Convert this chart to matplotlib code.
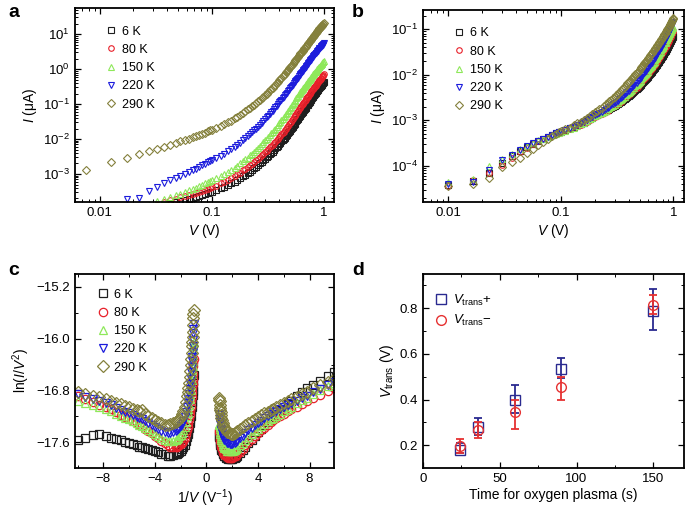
import matplotlib
matplotlib.use("Agg")
import matplotlib.pyplot as plt
import numpy as np

plt.rcParams['font.family'] = 'Liberation Sans'
plt.rcParams['mathtext.fontset'] = 'custom'
plt.rcParams['mathtext.rm'] = 'Liberation Sans'
plt.rcParams['mathtext.it'] = 'Liberation Sans:italic'

# ---- data ----
temps = ['6 K', '80 K', '150 K', '220 K', '290 K']
colors = ['#1e1e1e', '#e8202a', '#8ee85a', '#1c1cdc', '#84803c']
markers = ['s', 'o', '^', 'v', 'D']

# bias grid above 0.1 V (shared by panels a and b)
volts_high = [0.10, 0.11, 0.12, 0.13, 0.14, 0.15, 0.16, 0.17, 0.18, 0.19,
              0.20, 0.21, 0.22, 0.23, 0.24, 0.25, 0.26, 0.27, 0.28, 0.29,
              0.30, 0.31, 0.32, 0.33, 0.34, 0.35, 0.36, 0.37, 0.38, 0.39,
              0.40, 0.41, 0.42, 0.43, 0.44, 0.45, 0.46, 0.47, 0.48, 0.49,
              0.50, 0.51, 0.52, 0.53, 0.54, 0.55, 0.56, 0.57, 0.58, 0.59,
              0.60, 0.61, 0.62, 0.63, 0.64, 0.65, 0.66, 0.67, 0.68, 0.69,
              0.70, 0.71, 0.72, 0.73, 0.74, 0.75, 0.76, 0.77, 0.78, 0.79,
              0.80, 0.81, 0.82, 0.83, 0.84, 0.85, 0.86, 0.87, 0.88, 0.89,
              0.90, 0.91, 0.92, 0.93, 0.94, 0.95, 0.96, 0.97, 0.98, 0.99,
              1.00]

# panel a: log10 of current (uA)
volts_a_low = [0.0075, 0.0125, 0.0175, 0.0225, 0.0275, 0.0325, 0.0375, 0.0425, 0.0475, 0.0525,
               0.0575, 0.0625, 0.0675, 0.0725, 0.0775, 0.0825, 0.0875, 0.0925, 0.0975]
logi_a_6 = [-4.70, -4.50, -4.35, -4.20, -4.10, -4.00, -3.92, -3.86, -3.80, -3.77,
            -3.74, -3.72, -3.69, -3.67, -3.64, -3.61, -3.58, -3.55, -3.52,
            -3.51, -3.46, -3.41, -3.36, -3.31, -3.27, -3.22, -3.17, -3.12, -3.07,
            -3.02, -2.97, -2.93, -2.88, -2.84, -2.79, -2.74, -2.70, -2.65, -2.61,
            -2.56, -2.52, -2.48, -2.44, -2.40, -2.36, -2.31, -2.27, -2.23, -2.19,
            -2.15, -2.11, -2.07, -2.03, -1.99, -1.96, -1.92, -1.88, -1.84, -1.80,
            -1.76, -1.72, -1.68, -1.65, -1.61, -1.57, -1.53, -1.49, -1.46, -1.42,
            -1.38, -1.35, -1.32, -1.29, -1.26, -1.23, -1.19, -1.16, -1.13, -1.10,
            -1.07, -1.04, -1.02, -0.99, -0.96, -0.94, -0.91, -0.88, -0.85, -0.83,
            -0.80, -0.78, -0.75, -0.73, -0.71, -0.69, -0.66, -0.64, -0.62, -0.59,
            -0.57, -0.55, -0.53, -0.51, -0.49, -0.47, -0.45, -0.43, -0.41, -0.39,
            -0.37]
logi_a_80 = [-4.60, -4.40, -4.25, -4.10, -4.00, -3.90, -3.80, -3.74, -3.71, -3.67,
             -3.64, -3.61, -3.58, -3.55, -3.52, -3.49, -3.46, -3.43, -3.39,
             -3.38, -3.33, -3.27, -3.22, -3.17, -3.12, -3.06, -3.01, -2.96, -2.90,
             -2.85, -2.80, -2.75, -2.71, -2.66, -2.61, -2.56, -2.51, -2.47, -2.42,
             -2.37, -2.33, -2.29, -2.24, -2.20, -2.16, -2.12, -2.08, -2.03, -1.99,
             -1.95, -1.91, -1.87, -1.83, -1.79, -1.75, -1.70, -1.66, -1.62, -1.58,
             -1.54, -1.50, -1.46, -1.42, -1.38, -1.35, -1.31, -1.27, -1.23, -1.19,
             -1.15, -1.12, -1.09, -1.06, -1.03, -1.00, -0.96, -0.93, -0.90, -0.87,
             -0.84, -0.81, -0.79, -0.76, -0.74, -0.71, -0.68, -0.66, -0.63, -0.61,
             -0.58, -0.56, -0.54, -0.51, -0.49, -0.47, -0.45, -0.43, -0.40, -0.38,
             -0.36, -0.34, -0.32, -0.30, -0.27, -0.25, -0.23, -0.21, -0.19, -0.17,
             -0.15]
logi_a_150 = [-4.55, -4.30, -4.15, -4.00, -3.90, -3.78, -3.72, -3.66, -3.61, -3.56,
              -3.51, -3.47, -3.43, -3.39, -3.35, -3.31, -3.27, -3.23, -3.19,
              -3.18, -3.12, -3.06, -3.00, -2.94, -2.88, -2.82, -2.76, -2.70, -2.64,
              -2.58, -2.53, -2.47, -2.42, -2.36, -2.31, -2.26, -2.20, -2.15, -2.09,
              -2.04, -1.99, -1.94, -1.89, -1.84, -1.80, -1.75, -1.70, -1.65, -1.60,
              -1.55, -1.51, -1.46, -1.42, -1.38, -1.34, -1.29, -1.25, -1.21, -1.16,
              -1.12, -1.08, -1.04, -1.00, -0.96, -0.92, -0.88, -0.84, -0.80, -0.76,
              -0.72, -0.69, -0.66, -0.63, -0.60, -0.57, -0.54, -0.51, -0.48, -0.45,
              -0.42, -0.40, -0.37, -0.35, -0.32, -0.30, -0.27, -0.25, -0.22, -0.20,
              -0.17, -0.15, -0.13, -0.11, -0.09, -0.07, -0.05, -0.03, -0.01, 0.01,
              0.03, 0.05, 0.07, 0.09, 0.11, 0.13, 0.15, 0.17, 0.19, 0.21,
              0.23]
logi_a_220 = [-4.20, -3.95, -3.72, -3.68, -3.49, -3.38, -3.26, -3.17, -3.11, -3.07,
              -3.01, -2.95, -2.90, -2.85, -2.80, -2.75, -2.71, -2.66, -2.62,
              -2.61, -2.55, -2.48, -2.42, -2.35, -2.29, -2.23, -2.16, -2.10, -2.03,
              -1.97, -1.92, -1.86, -1.81, -1.75, -1.70, -1.65, -1.59, -1.54, -1.48,
              -1.43, -1.38, -1.33, -1.29, -1.24, -1.19, -1.14, -1.09, -1.05, -1.00,
              -0.95, -0.91, -0.87, -0.83, -0.79, -0.75, -0.71, -0.67, -0.63, -0.59,
              -0.55, -0.52, -0.48, -0.45, -0.41, -0.38, -0.34, -0.31, -0.27, -0.24,
              -0.20, -0.17, -0.14, -0.11, -0.08, -0.05, -0.02, 0.01, 0.04, 0.07,
              0.10, 0.12, 0.15, 0.17, 0.20, 0.22, 0.25, 0.27, 0.30, 0.32,
              0.35, 0.37, 0.39, 0.41, 0.43, 0.45, 0.47, 0.49, 0.51, 0.53,
              0.55, 0.57, 0.59, 0.61, 0.63, 0.65, 0.66, 0.68, 0.70, 0.72,
              0.74]
logi_a_290 = [-2.88, -2.67, -2.54, -2.43, -2.35, -2.28, -2.22, -2.16, -2.11, -2.07,
              -2.03, -1.99, -1.95, -1.92, -1.88, -1.85, -1.82, -1.78, -1.75,
              -1.73, -1.68, -1.62, -1.57, -1.52, -1.47, -1.41, -1.36, -1.31, -1.25,
              -1.20, -1.15, -1.10, -1.06, -1.02, -0.97, -0.92, -0.88, -0.83, -0.79,
              -0.74, -0.70, -0.66, -0.61, -0.57, -0.53, -0.49, -0.45, -0.40, -0.36,
              -0.32, -0.28, -0.24, -0.21, -0.17, -0.13, -0.09, -0.05, -0.02, 0.02,
              0.06, 0.09, 0.13, 0.16, 0.19, 0.23, 0.26, 0.29, 0.32, 0.36,
              0.39, 0.42, 0.45, 0.47, 0.50, 0.53, 0.56, 0.59, 0.61, 0.64,
              0.67, 0.69, 0.72, 0.74, 0.77, 0.79, 0.81, 0.84, 0.86, 0.89,
              0.91, 0.93, 0.95, 0.98, 1.00, 1.02, 1.04, 1.06, 1.09, 1.11,
              1.13, 1.15, 1.17, 1.19, 1.21, 1.23, 1.24, 1.26, 1.28, 1.30,
              1.32]

# panel b: log10 of current (uA)
volts_b_low = [0.01, 0.0167, 0.0233, 0.03, 0.0367, 0.0433, 0.05, 0.0567, 0.0633, 0.07,
               0.0767, 0.0833, 0.09, 0.0967]
logi_b_6 = [-4.43, -4.33, -4.16, -3.93, -3.79, -3.68, -3.58, -3.51, -3.45, -3.40,
            -3.36, -3.32, -3.29, -3.26,
            -3.25, -3.22, -3.18, -3.15, -3.11, -3.08, -3.05, -3.01, -2.98, -2.94,
            -2.91, -2.89, -2.86, -2.84, -2.82, -2.80, -2.77, -2.75, -2.73, -2.70,
            -2.68, -2.66, -2.64, -2.61, -2.59, -2.57, -2.55, -2.53, -2.50, -2.48,
            -2.46, -2.44, -2.42, -2.39, -2.37, -2.35, -2.33, -2.31, -2.28, -2.26,
            -2.24, -2.22, -2.20, -2.18, -2.16, -2.14, -2.11, -2.09, -2.07, -2.05,
            -2.03, -2.01, -1.98, -1.96, -1.94, -1.92, -1.89, -1.87, -1.85, -1.82,
            -1.80, -1.78, -1.76, -1.73, -1.71, -1.69, -1.67, -1.65, -1.62, -1.60,
            -1.58, -1.56, -1.54, -1.51, -1.49, -1.47, -1.45, -1.43, -1.40, -1.38,
            -1.36, -1.34, -1.32, -1.29, -1.27, -1.25, -1.23, -1.21, -1.18, -1.16,
            -1.14]
logi_b_80 = [-4.45, -4.31, -4.15, -3.98, -3.82, -3.70, -3.60, -3.52, -3.46, -3.41,
             -3.37, -3.33, -3.30, -3.27,
             -3.26, -3.23, -3.19, -3.16, -3.13, -3.10, -3.06, -3.03, -3.00, -2.96,
             -2.93, -2.91, -2.88, -2.86, -2.83, -2.81, -2.79, -2.76, -2.74, -2.71,
             -2.69, -2.67, -2.64, -2.62, -2.59, -2.57, -2.54, -2.52, -2.49, -2.47,
             -2.44, -2.42, -2.39, -2.37, -2.35, -2.33, -2.30, -2.28, -2.26, -2.23,
             -2.21, -2.19, -2.16, -2.14, -2.11, -2.09, -2.07, -2.04, -2.02, -1.99,
             -1.97, -1.95, -1.92, -1.90, -1.88, -1.86, -1.83, -1.81, -1.79, -1.76,
             -1.74, -1.72, -1.69, -1.67, -1.64, -1.62, -1.60, -1.57, -1.55, -1.52,
             -1.50, -1.48, -1.45, -1.43, -1.41, -1.39, -1.36, -1.34, -1.32, -1.29,
             -1.27, -1.25, -1.22, -1.20, -1.18, -1.16, -1.13, -1.11, -1.09, -1.06,
             -1.04]
logi_b_150 = [-4.36, -4.30, -4.01, -3.85, -3.74, -3.64, -3.56, -3.50, -3.44, -3.40,
              -3.36, -3.33, -3.30, -3.27,
              -3.26, -3.23, -3.19, -3.16, -3.12, -3.09, -3.05, -3.02, -2.98, -2.95,
              -2.91, -2.89, -2.86, -2.84, -2.81, -2.79, -2.76, -2.74, -2.71, -2.69,
              -2.66, -2.63, -2.61, -2.58, -2.56, -2.53, -2.50, -2.48, -2.45, -2.43,
              -2.40, -2.38, -2.35, -2.33, -2.30, -2.28, -2.25, -2.23, -2.20, -2.18,
              -2.15, -2.13, -2.10, -2.08, -2.05, -2.03, -2.00, -1.98, -1.95, -1.93,
              -1.90, -1.88, -1.85, -1.83, -1.80, -1.78, -1.76, -1.73, -1.71, -1.68,
              -1.66, -1.64, -1.61, -1.59, -1.56, -1.54, -1.51, -1.49, -1.46, -1.44,
              -1.41, -1.39, -1.36, -1.34, -1.31, -1.29, -1.27, -1.24, -1.22, -1.19,
              -1.17, -1.15, -1.12, -1.10, -1.08, -1.06, -1.03, -1.01, -0.99, -0.96,
              -0.94]
logi_b_220 = [-4.40, -4.36, -4.10, -3.87, -3.76, -3.66, -3.57, -3.50, -3.45, -3.40,
              -3.36, -3.32, -3.29, -3.26,
              -3.25, -3.21, -3.18, -3.14, -3.11, -3.07, -3.03, -3.00, -2.96, -2.93,
              -2.89, -2.86, -2.84, -2.81, -2.78, -2.76, -2.73, -2.70, -2.67, -2.65,
              -2.62, -2.59, -2.57, -2.54, -2.51, -2.49, -2.46, -2.43, -2.40, -2.38,
              -2.35, -2.32, -2.30, -2.27, -2.25, -2.22, -2.19, -2.17, -2.14, -2.12,
              -2.09, -2.06, -2.04, -2.01, -1.99, -1.96, -1.93, -1.91, -1.88, -1.86,
              -1.83, -1.80, -1.78, -1.75, -1.73, -1.70, -1.67, -1.65, -1.62, -1.60,
              -1.57, -1.55, -1.52, -1.50, -1.47, -1.45, -1.42, -1.40, -1.37, -1.35,
              -1.32, -1.30, -1.27, -1.25, -1.22, -1.20, -1.17, -1.15, -1.12, -1.10,
              -1.07, -1.05, -1.02, -1.00, -0.98, -0.95, -0.93, -0.90, -0.88, -0.85,
              -0.83]
logi_b_290 = [-4.45, -4.40, -4.27, -4.03, -3.92, -3.82, -3.72, -3.62, -3.54, -3.47,
              -3.41, -3.35, -3.30, -3.26,
              -3.24, -3.20, -3.16, -3.11, -3.07, -3.03, -2.99, -2.95, -2.90, -2.86,
              -2.82, -2.79, -2.75, -2.72, -2.68, -2.65, -2.62, -2.58, -2.55, -2.51,
              -2.48, -2.45, -2.42, -2.38, -2.35, -2.32, -2.29, -2.26, -2.22, -2.19,
              -2.16, -2.13, -2.10, -2.08, -2.05, -2.02, -1.99, -1.96, -1.94, -1.91,
              -1.88, -1.85, -1.83, -1.80, -1.78, -1.75, -1.72, -1.70, -1.67, -1.65,
              -1.62, -1.60, -1.57, -1.55, -1.53, -1.51, -1.48, -1.46, -1.44, -1.41,
              -1.39, -1.37, -1.35, -1.32, -1.30, -1.28, -1.26, -1.24, -1.21, -1.19,
              -1.17, -1.15, -1.13, -1.11, -1.09, -1.07, -1.04, -1.02, -1.00, -0.98,
              -0.96, -0.94, -0.92, -0.90, -0.88, -0.86, -0.84, -0.82, -0.80, -0.78,
              -0.76]

# panel c: 1/V for negative and positive bias, and ln(I/V^2)
inv_v_neg = [-10.0, -9.4, -8.8, -8.3, -7.8, -7.4, -7.0, -6.6, -6.3, -6.0,
             -5.7, -5.4, -5.2, -5.0, -4.75, -4.5, -4.25, -4.0, -3.75, -3.5,
             -3.25, -3.0, -2.8, -2.6, -2.4, -2.3, -2.2, -2.1, -2.0, -1.9,
             -1.8, -1.7, -1.6, -1.5, -1.45, -1.4, -1.35, -1.3, -1.26, -1.22,
             -1.18, -1.15, -1.12, -1.1, -1.08, -1.06, -1.04, -1.02, -1.01, -1.0]
inv_v_pos = [1.0, 1.01, 1.02, 1.04, 1.06, 1.08, 1.1, 1.13, 1.16, 1.2,
             1.25, 1.3, 1.35, 1.4, 1.5, 1.6, 1.7, 1.8, 1.9, 2.0,
             2.1, 2.2, 2.3, 2.4, 2.6, 2.8, 3.0, 3.25, 3.5, 3.75,
             4.0, 4.25, 4.5, 4.75, 5.0, 5.2, 5.4, 5.7, 6.0, 6.3,
             6.6, 7.0, 7.4, 7.8, 8.3, 8.8, 9.4, 9.9]
fn_neg_6 = [-17.56, -17.53, -17.49, -17.47, -17.51, -17.53, -17.55, -17.57, -17.60, -17.62,
            -17.63, -17.65, -17.67, -17.68, -17.69, -17.71, -17.72, -17.74, -17.76, -17.78,
            -17.79, -17.81, -17.81, -17.80, -17.79, -17.78, -17.77, -17.75, -17.73, -17.71,
            -17.68, -17.64, -17.58, -17.52, -17.48, -17.43, -17.38, -17.31, -17.25, -17.19,
            -17.11, -17.05, -16.98, -16.93, -16.87, -16.81, -16.74, -16.65, -16.61, -16.56]
fn_neg_80 = [-16.88, -16.93, -16.98, -17.02, -17.06, -17.09, -17.14, -17.18, -17.21, -17.24,
             -17.27, -17.31, -17.33, -17.35, -17.39, -17.43, -17.46, -17.50, -17.54, -17.58,
             -17.62, -17.65, -17.67, -17.68, -17.68, -17.67, -17.66, -17.65, -17.63, -17.61,
             -17.58, -17.54, -17.48, -17.41, -17.36, -17.31, -17.25, -17.18, -17.12, -17.05,
             -16.97, -16.90, -16.82, -16.77, -16.70, -16.62, -16.54, -16.43, -16.37, -16.31]
fn_neg_150 = [-16.96, -17.00, -17.03, -17.06, -17.09, -17.12, -17.16, -17.19, -17.22, -17.25,
              -17.28, -17.31, -17.33, -17.35, -17.38, -17.41, -17.44, -17.47, -17.50, -17.54,
              -17.56, -17.58, -17.58, -17.58, -17.56, -17.55, -17.53, -17.51, -17.49, -17.46,
              -17.41, -17.36, -17.29, -17.20, -17.15, -17.09, -17.02, -16.94, -16.87, -16.79,
              -16.71, -16.64, -16.55, -16.49, -16.42, -16.34, -16.26, -16.16, -16.11, -16.05]
fn_neg_220 = [-16.86, -16.90, -16.94, -16.97, -17.00, -17.03, -17.07, -17.10, -17.13, -17.15,
              -17.18, -17.21, -17.23, -17.25, -17.28, -17.31, -17.34, -17.37, -17.40, -17.43,
              -17.45, -17.46, -17.46, -17.45, -17.43, -17.42, -17.40, -17.38, -17.35, -17.32,
              -17.27, -17.21, -17.14, -17.05, -16.99, -16.93, -16.86, -16.78, -16.70, -16.62,
              -16.52, -16.44, -16.35, -16.28, -16.20, -16.12, -16.02, -15.91, -15.85, -15.78]
fn_neg_290 = [-16.82, -16.85, -16.88, -16.90, -16.93, -16.96, -16.99, -17.01, -17.04, -17.06,
              -17.08, -17.11, -17.12, -17.11, -17.17, -17.20, -17.23, -17.26, -17.29, -17.31,
              -17.33, -17.33, -17.32, -17.31, -17.29, -17.28, -17.26, -17.24, -17.21, -17.17,
              -17.12, -17.06, -16.98, -16.89, -16.83, -16.76, -16.68, -16.59, -16.50, -16.41,
              -16.31, -16.22, -16.12, -16.05, -15.97, -15.89, -15.79, -15.68, -15.62, -15.56]
fn_pos_6 = [-17.50, -17.52, -17.54, -17.58, -17.61, -17.64, -17.66, -17.69, -17.72, -17.74,
            -17.77, -17.79, -17.81, -17.82, -17.84, -17.85, -17.86, -17.86, -17.86, -17.86,
            -17.85, -17.84, -17.83, -17.81, -17.77, -17.72, -17.67, -17.61, -17.56, -17.50,
            -17.44, -17.39, -17.34, -17.29, -17.24, -17.20, -17.17, -17.11, -17.06, -17.01,
            -16.96, -16.89, -16.83, -16.77, -16.71, -16.65, -16.58, -16.52]
fn_pos_80 = [-17.42, -17.44, -17.47, -17.51, -17.55, -17.58, -17.61, -17.65, -17.68, -17.71,
             -17.74, -17.77, -17.79, -17.80, -17.82, -17.83, -17.84, -17.84, -17.84, -17.84,
             -17.83, -17.82, -17.81, -17.79, -17.75, -17.70, -17.65, -17.60, -17.55, -17.50,
             -17.46, -17.42, -17.38, -17.33, -17.29, -17.26, -17.23, -17.20, -17.16, -17.12,
             -17.09, -17.05, -17.01, -16.97, -16.92, -16.87, -16.81, -16.76]
fn_pos_150 = [-17.32, -17.34, -17.36, -17.40, -17.44, -17.47, -17.50, -17.53, -17.56, -17.60,
              -17.63, -17.66, -17.68, -17.69, -17.71, -17.73, -17.74, -17.74, -17.74, -17.74,
              -17.73, -17.72, -17.71, -17.69, -17.65, -17.61, -17.57, -17.52, -17.48, -17.43,
              -17.39, -17.35, -17.32, -17.28, -17.24, -17.22, -17.19, -17.16, -17.12, -17.08,
              -17.05, -17.00, -16.95, -16.91, -16.85, -16.79, -16.73, -16.68]
fn_pos_220 = [-17.16, -17.18, -17.21, -17.25, -17.29, -17.32, -17.35, -17.39, -17.42, -17.46,
              -17.49, -17.52, -17.54, -17.56, -17.59, -17.61, -17.62, -17.63, -17.63, -17.63,
              -17.62, -17.61, -17.60, -17.58, -17.54, -17.50, -17.46, -17.42, -17.38, -17.34,
              -17.30, -17.27, -17.23, -17.19, -17.16, -17.14, -17.12, -17.09, -17.06, -17.03,
              -17.00, -16.96, -16.92, -16.88, -16.83, -16.78, -16.72, -16.67]
fn_pos_290 = [-16.92, -16.95, -16.97, -17.02, -17.07, -17.11, -17.14, -17.18, -17.22, -17.26,
              -17.30, -17.33, -17.36, -17.38, -17.41, -17.44, -17.45, -17.46, -17.47, -17.47,
              -17.47, -17.46, -17.45, -17.43, -17.40, -17.37, -17.34, -17.31, -17.27, -17.24,
              -17.21, -17.18, -17.15, -17.13, -17.10, -17.08, -17.06, -17.03, -17.00, -16.97,
              -16.94, -16.90, -16.86, -16.82, -16.77, -16.72, -16.67, -16.62]

# panel d: transition voltage vs plasma time
plasma_time = [24, 36, 60, 90, 150]
vtrans_pos = [0.18, 0.28, 0.40, 0.535, 0.79]
vtrans_pos_lo = [0.165, 0.245, 0.34, 0.495, 0.705]
vtrans_pos_hi = [0.21, 0.32, 0.465, 0.58, 0.885]
vtrans_neg = [0.195, 0.265, 0.345, 0.455, 0.815]
vtrans_neg_lo = [0.165, 0.23, 0.27, 0.40, 0.775]
vtrans_neg_hi = [0.225, 0.30, 0.40, 0.50, 0.86]

W, H = 685.0, 511.0


def add_axes_px(fig, left, top, right, bottom):
    return fig.add_axes([left / W, 1 - bottom / H, (right - left) / W, (bottom - top) / H])


def style_axes(ax):
    ax.tick_params(which='both', direction='in', top=True, right=True, labelsize=9.5)
    ax.tick_params(which='major', length=4, width=0.9)
    ax.tick_params(which='minor', length=2, width=0.7)
    for s in ax.spines.values():
        s.set_linewidth(1.3)


def draw_iv(ax, volts, curves, ylim):
    for lab, col, mk, logi in zip(temps, colors, markers, curves):
        ax.plot(volts, 10 ** np.array(logi), linestyle='none', marker=mk, ms=4,
                mfc='none', mec=col, mew=0.8, label=lab)
    ax.set_xscale('log')
    ax.set_yscale('log')
    ax.set_xlim(0.006, 1.24)
    ax.set_ylim(*ylim)
    ax.set_xticks([0.01, 0.1, 1], ['0.01', '0.1', '1'])
    ax.xaxis.set_minor_formatter(matplotlib.ticker.NullFormatter())
    ax.set_xlabel(r'$V$ (V)', fontsize=10, labelpad=2)
    ax.set_ylabel(r'$I$ (μA)', fontsize=10, labelpad=3)
    style_axes(ax)
    ax.legend(loc='upper left', bbox_to_anchor=(0.1, 0.935), frameon=False, fontsize=9,
              handlelength=0.8, handletextpad=0.5, labelspacing=0.5, borderaxespad=0)


fig = plt.figure(figsize=(W / 100, H / 100), dpi=100)

ax_a = add_axes_px(fig, 75, 8, 334, 202)
draw_iv(ax_a, volts_a_low + volts_high,
        [logi_a_6, logi_a_80, logi_a_150, logi_a_220, logi_a_290], (1.58e-4, 56))

ax_b = add_axes_px(fig, 423, 10, 684, 202)
draw_iv(ax_b, volts_b_low + volts_high,
        [logi_b_6, logi_b_80, logi_b_150, logi_b_220, logi_b_290], (1.6e-5, 0.266))

# panel c
ax_c = add_axes_px(fig, 75, 274, 334, 468)
neg_curves = [fn_neg_6, fn_neg_80, fn_neg_150, fn_neg_220, fn_neg_290]
pos_curves = [fn_pos_6, fn_pos_80, fn_pos_150, fn_pos_220, fn_pos_290]
for lab, col, mk, yn, yp in zip(temps, colors, markers, neg_curves, pos_curves):
    ax_c.plot(inv_v_neg, yn, linestyle='none', marker=mk, ms=6, mfc='none', mec=col, mew=0.9, label=lab)
    ax_c.plot(inv_v_pos, yp, linestyle='none', marker=mk, ms=6, mfc='none', mec=col, mew=0.9)
ax_c.set_xlim(-10.2, 9.9)
ax_c.set_ylim(-18.0, -15.0)
ax_c.set_xticks([-8, -4, 0, 4, 8])
ax_c.set_xticks([-10, -6, -2, 2, 6], minor=True)
ax_c.set_yticks([-15.2, -16.0, -16.8, -17.6], ['−15.2', '−16.0', '−16.8', '−17.6'])
ax_c.set_yticks([-15.6, -16.4, -17.2], minor=True)
ax_c.set_xlabel(r'1/$V$ (V$^{-1}$)', fontsize=10, labelpad=2)
ax_c.set_ylabel(r'ln($I$/$V^2$)', fontsize=10, labelpad=3)
style_axes(ax_c)
ax_c.legend(loc='upper left', bbox_to_anchor=(0.07, 0.95), frameon=False, fontsize=9,
            handlelength=0.8, handletextpad=0.5, labelspacing=0.5, borderaxespad=0)

# panel d
ax_d = add_axes_px(fig, 423, 274, 684, 468)
navy = '#2a2a90'
red = '#e63232'
v = np.array(vtrans_pos)
ax_d.errorbar(plasma_time, vtrans_pos,
              yerr=[v - np.array(vtrans_pos_lo), np.array(vtrans_pos_hi) - v],
              fmt='none', ecolor=navy, elinewidth=1.3, capsize=3, capthick=1.3)
ax_d.plot(plasma_time, vtrans_pos, linestyle='none', marker='s', ms=6.5, mfc='none',
          mec=navy, mew=1.0, label=r'$V_{\mathrm{trans}}$+')
v = np.array(vtrans_neg)
ax_d.errorbar(plasma_time, vtrans_neg,
              yerr=[v - np.array(vtrans_neg_lo), np.array(vtrans_neg_hi) - v],
              fmt='none', ecolor=red, elinewidth=1.3, capsize=3, capthick=1.3)
ax_d.plot(plasma_time, vtrans_neg, linestyle='none', marker='o', ms=7, mfc='none',
          mec=red, mew=1.0, label=r'$V_{\mathrm{trans}}$−')
ax_d.set_xlim(0, 170)
ax_d.set_ylim(0.1, 0.95)
ax_d.set_xticks([0, 50, 100, 150])
ax_d.set_xticks([25, 75, 125], minor=True)
ax_d.set_yticks([0.2, 0.4, 0.6, 0.8])
ax_d.set_yticks([0.3, 0.5, 0.7, 0.9], minor=True)
ax_d.set_xlabel('Time for oxygen plasma (s)', fontsize=10, labelpad=2)
ax_d.set_ylabel(r'$V_{\mathrm{trans}}$ (V)', fontsize=10, labelpad=3)
style_axes(ax_d)
ax_d.legend(loc='upper left', bbox_to_anchor=(0.03, 0.93), frameon=False, fontsize=9.5,
            handlelength=0.8, handletextpad=0.5, labelspacing=0.4, borderaxespad=0)

# panel letters
for x, y, letter in [(8, 4, 'a'), (352, 4, 'b'), (8, 262, 'c'), (352, 262, 'd')]:
    fig.text(x / W, 1 - y / H, letter, fontsize=14, fontweight='bold', va='top', ha='left')

fig.savefig('out.png', dpi=100)
